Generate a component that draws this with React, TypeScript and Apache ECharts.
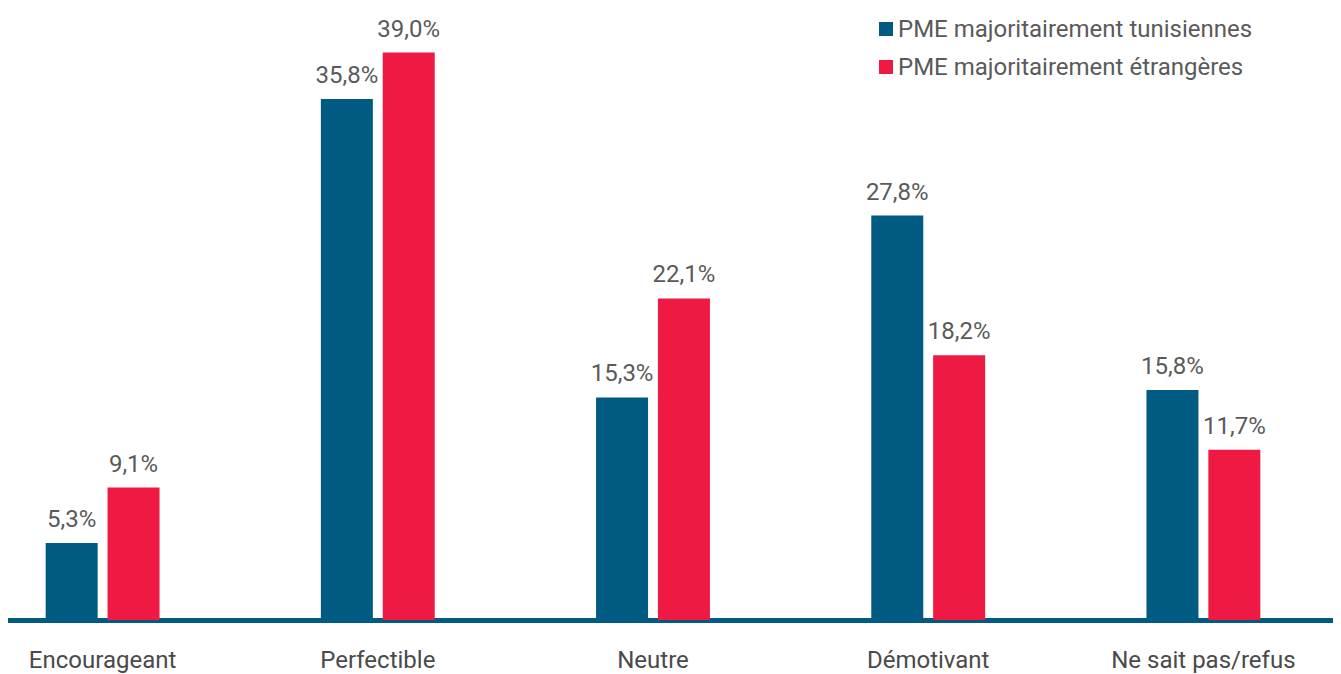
import React, { useEffect, useRef } from "react";
import * as echarts from "echarts";

const categories = ["Encourageant", "Perfectible", "Neutre", "Démotivant", "Ne sait pas/refus"];
const seriesNames = ["PME majoritairement tunisiennes", "PME majoritairement étrangères"];
const tunisiennes = [5.3, 35.8, 15.3, 27.8, 15.8];
const etrangeres = [9.1, 39.0, 22.1, 18.2, 11.7];

const fmt = (v: number) => v.toFixed(1).replace(".", ",") + "%";

export default function App() {
  const ref = useRef<HTMLDivElement>(null);
  useEffect(() => {
    if (!ref.current) return;
    const chart = echarts.init(ref.current, null, { renderer: "svg" });
    const labelStyle = {
      show: true,
      position: "top" as const,
      distance: 12,
      fontFamily: "Roboto",
      fontSize: 24,
      color: "#5a5a5a",
      formatter: (p: any) => fmt(p.value),
    };
    chart.setOption({
      animation: false,
      textStyle: { fontFamily: "Roboto" },
      legend: {
        orient: "vertical",
        left: 909,
        top: 4,
        itemWidth: 14,
        itemHeight: 14,
        itemGap: 14,
        icon: "rect",
        textStyle: { fontFamily: "Roboto", fontSize: 24, color: "#5a5a5a" },
        data: seriesNames,
      },
      grid: { left: 0, right: 0, top: 30, bottom: 54, containLabel: false },
      xAxis: {
        type: "category",
        data: categories,
        axisLine: { lineStyle: { color: "#005a82", width: 5 } },
        axisTick: { show: false },
        axisLabel: { fontFamily: "Roboto", fontSize: 24, color: "#4a4a4a", margin: 28 },
      },
      yAxis: {
        type: "value",
        min: 0,
        max: 40,
        show: false,
        splitLine: { show: false },
      },
      series: [
        {
          name: seriesNames[0],
          type: "bar",
          data: tunisiennes,
          barWidth: 52,
          barGap: "19%",
          itemStyle: { color: "#005a82" },
          label: labelStyle,
        },
        {
          name: seriesNames[1],
          type: "bar",
          data: etrangeres,
          barWidth: 52,
          barGap: "19%",
          itemStyle: { color: "#ee1a43" },
          label: labelStyle,
        },
      ],
    });
    return () => chart.dispose();
  }, []);
  return <div ref={ref} style={{ width: 1376, height: 666, marginLeft: -43 }} />;
}
